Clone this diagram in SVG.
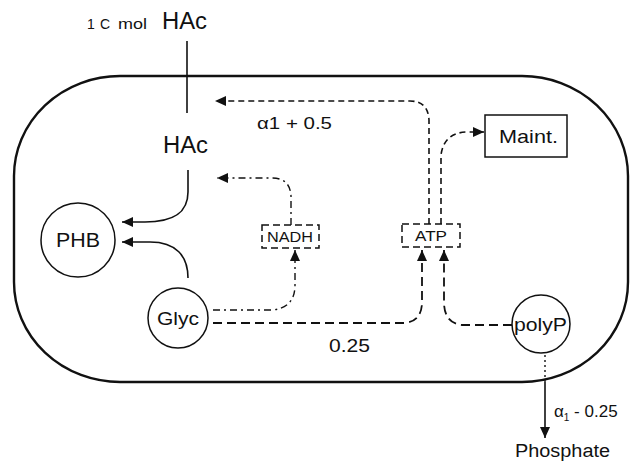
<svg xmlns="http://www.w3.org/2000/svg" width="632" height="467" viewBox="0 0 632 467">
<style>
text{font-family:"Liberation Sans",Arial,sans-serif;fill:#111}
.cell{fill:none;stroke:#111;stroke-width:2.4}
.node{fill:#fff;stroke:#111;stroke-width:1.5}
.dbox{fill:#fff;stroke:#111;stroke-width:1.5;stroke-dasharray:7 4}
.solid{fill:none;stroke:#111;stroke-width:1.6}
.dash{fill:none;stroke:#111;stroke-width:1.8;stroke-dasharray:9 5}
.sdash{fill:none;stroke:#111;stroke-width:1.6;stroke-dasharray:6 4}
.dd{fill:none;stroke:#111;stroke-width:1.4;stroke-dasharray:7 4 2 4}
.dot{fill:none;stroke:#111;stroke-width:1.4;stroke-dasharray:2 3}
</style>
<defs>
<marker id="ah" markerUnits="userSpaceOnUse" markerWidth="12" markerHeight="10" refX="11" refY="5" orient="auto">
<path d="M0,0 L11,5 L0,10 Z" fill="#111"/>
</marker>
</defs>
<rect class="cell" x="14" y="76" width="614" height="306" rx="106" ry="100"/>
<g id="connectors">
<line class="solid" x1="187" y1="41" x2="187" y2="113"/>
<path class="solid" d="M188,170 L188,192 C188,214 172,222 145,222 L122,222" marker-end="url(#ah)"/>
<path class="solid" d="M188,278 C188,256 176,242 150,242 L122,242" marker-end="url(#ah)"/>
<path class="dd" d="M213,310 L272,310 Q295,308 295,285 L295,250" marker-end="url(#ah)"/>
<path class="dd" d="M291,225 L291,196 Q290,178 272,178 L217,178" marker-end="url(#ah)"/>
<path class="dash" d="M213,323 L405,323 Q422,321 422,302 L422,250" marker-end="url(#ah)"/>
<path class="dash" d="M512,325 L462,325 Q444,323 444,302 L444,250" marker-end="url(#ah)"/>
<path class="sdash" d="M429,224 L429,120 Q428,101 410,101 L215,101" marker-end="url(#ah)"/>
<path class="sdash" d="M441,224 L441,155 Q444,132 468,132 L484,132" marker-end="url(#ah)"/>
<line class="dot" x1="545" y1="355" x2="545" y2="382"/>
<path class="solid" d="M545,382 L545,438" marker-end="url(#ah)"/>
</g>
<g id="label-hac-ext">
<text y="29" font-size="14"><tspan x="87">1</tspan><tspan x="100">C</tspan><tspan x="118" textLength="29" lengthAdjust="spacingAndGlyphs">mol</tspan></text>
<text x="162" y="29" font-size="23" textLength="45" lengthAdjust="spacingAndGlyphs">HAc</text>
</g>
<g id="node-hac">
<text x="163" y="153" font-size="23" textLength="45" lengthAdjust="spacingAndGlyphs">HAc</text>
</g>
<g id="node-phb">
<circle class="node" cx="78" cy="240" r="37"/>
<text x="56" y="247" font-size="20" textLength="44" lengthAdjust="spacingAndGlyphs">PHB</text>
</g>
<g id="node-glyc">
<circle class="node" cx="178" cy="318" r="30"/>
<text x="157" y="325" font-size="19" textLength="42" lengthAdjust="spacingAndGlyphs">Glyc</text>
</g>
<g id="node-nadh">
<rect class="dbox" x="262" y="225" width="57" height="23"/>
<text x="267" y="242" font-size="15" textLength="46" lengthAdjust="spacingAndGlyphs">NADH</text>
</g>
<g id="node-atp">
<rect class="dbox" x="402" y="224" width="58" height="23"/>
<text x="415" y="241" font-size="15" textLength="32" lengthAdjust="spacingAndGlyphs">ATP</text>
</g>
<g id="node-maint">
<rect class="node" x="485" y="115" width="82" height="42"/>
<text x="499" y="143" font-size="19" textLength="59" lengthAdjust="spacingAndGlyphs">Maint.</text>
</g>
<g id="node-polyp">
<circle class="node" cx="541" cy="324" r="29"/>
<text x="514" y="331" font-size="18" textLength="53" lengthAdjust="spacingAndGlyphs">polyP</text>
</g>
<g id="node-phosphate">
<text x="515" y="457" font-size="18" textLength="95" lengthAdjust="spacingAndGlyphs">Phosphate</text>
</g>
<g id="labels">
<text x="257" y="129" font-size="17" textLength="75" lengthAdjust="spacingAndGlyphs">α1 + 0.5</text>
<text x="329" y="352" font-size="18" textLength="41" lengthAdjust="spacingAndGlyphs">0.25</text>
<text x="554" y="417" font-size="17">α<tspan font-size="10" dy="4">1</tspan><tspan dy="-4"> - 0.25</tspan></text>
</g>
</svg>
